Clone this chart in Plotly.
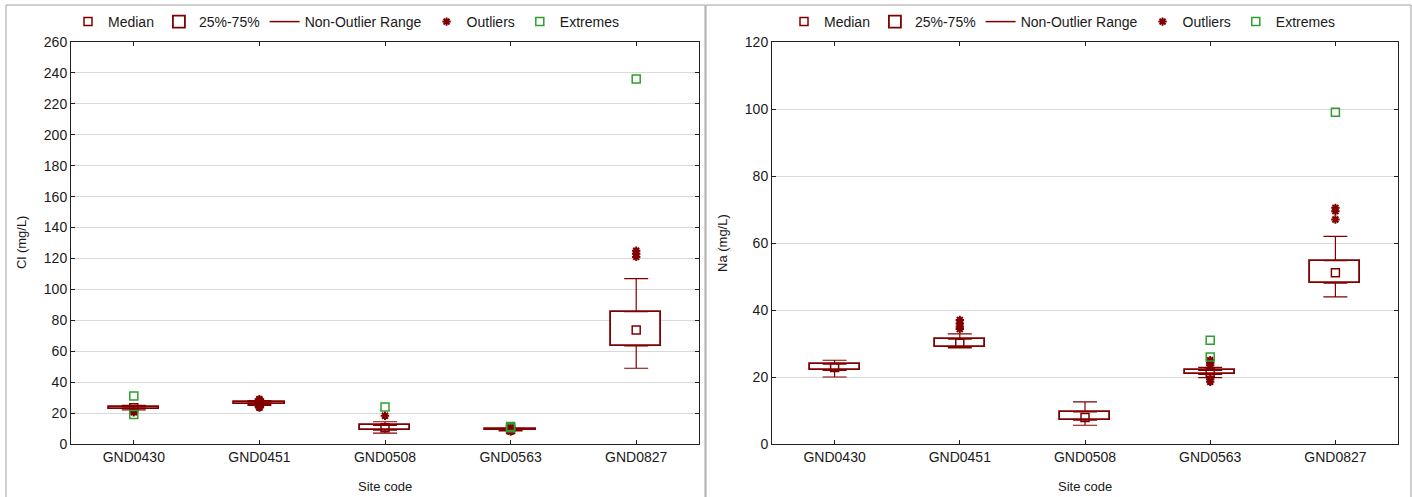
import plotly.graph_objects as go

sites = ["GND0430", "GND0451", "GND0508", "GND0563", "GND0827"]

# Cl (mg/L)
cl_q1 = [22.8, 25.8, 8.9, 8.8, 63.4]
cl_med = [23.5, 26.5, 10.5, 9.3, 73.7]
cl_q3 = [24.0, 27.0, 12.1, 9.8, 85.6]
cl_low = [22.0, 25.0, 7.0, 8.5, 49.0]
cl_high = [25.0, 28.0, 14.4, 10.2, 107.0]
cl_outliers = [[21.0, 20.5], [28.5, 29.0, 24.0, 23.5], [18.3], [8.0, 10.8], [125.0, 123.0, 121.0]]
cl_extremes = [[31.0, 19.0], [], [24.0], [11.3, 10.5], [236.0]]

# Na (mg/L)
na_q1 = [22.0, 28.9, 7.1, 20.8, 48.0]
na_med = [22.8, 30.1, 7.9, 21.4, 51.1]
na_q3 = [23.8, 31.3, 9.6, 22.0, 54.7]
na_low = [20.0, 28.7, 5.6, 19.8, 43.9]
na_high = [25.0, 32.9, 12.6, 22.9, 62.0]
na_outliers = [[], [37.0, 36.0, 35.0, 34.3], [], [25.0, 24.2, 23.5, 19.3, 18.6], [70.5, 69.5, 67.0]]
na_extremes = [[], [], [], [31.0, 26.0], [99.0]]

MAROON = "#800000"
GREEN = "#2e9e2e"
FONT = "Liberation Sans, Arial, sans-serif"

fig = go.Figure()


def add_panel(q1, med, q3, low, high, outl, extr, xa, ya, leg):
    # whiskers (upper and lower)
    fig.add_trace(go.Scatter(
        x=sites, y=q3, mode="markers", marker=dict(color="rgba(0,0,0,0)", size=1),
        error_y=dict(type="data", array=[h - q for h, q in zip(high, q3)],
                     arrayminus=[0] * len(sites), color=MAROON, thickness=1.2, width=12),
        xaxis=xa, yaxis=ya, showlegend=False, hoverinfo="skip"))
    fig.add_trace(go.Scatter(
        x=sites, y=q1, mode="markers", marker=dict(color="rgba(0,0,0,0)", size=1),
        error_y=dict(type="data", array=[0] * len(sites),
                     arrayminus=[q - l for q, l in zip(q1, low)], color=MAROON, thickness=1.2, width=12),
        xaxis=xa, yaxis=ya, showlegend=False, hoverinfo="skip"))
    # boxes
    fig.add_trace(go.Bar(
        x=sites, y=[b - a for a, b in zip(q1, q3)], base=q1, width=0.4,
        marker=dict(color="white", line=dict(color=MAROON, width=1.8)),
        name="25%-75%", legend=leg, legendrank=2, xaxis=xa, yaxis=ya))
    # median
    fig.add_trace(go.Scatter(
        x=sites, y=med, mode="markers",
        marker=dict(symbol="square-open", size=8, color=MAROON, line=dict(width=1.5)),
        name="Median", legend=leg, legendrank=1, xaxis=xa, yaxis=ya))
    # non-outlier range legend entry
    fig.add_trace(go.Scatter(
        x=[None], y=[None], mode="lines", line=dict(color=MAROON, width=1.5),
        name="Non-Outlier Range", legend=leg, legendrank=3, xaxis=xa, yaxis=ya))
    # outliers
    ox, oy = [], []
    for s, vals in zip(sites, outl):
        for v in vals:
            ox.append(s)
            oy.append(v)
    fig.add_trace(go.Scatter(
        x=ox, y=oy, mode="markers",
        marker=dict(symbol="asterisk-open", size=7, color=MAROON, line=dict(width=2, color=MAROON)),
        name="Outliers", legend=leg, legendrank=4, xaxis=xa, yaxis=ya))
    ex, ey = [], []
    for s, vals in zip(sites, extr):
        for v in vals:
            ex.append(s)
            ey.append(v)
    fig.add_trace(go.Scatter(
        x=ex, y=ey, mode="markers",
        marker=dict(symbol="square-open", size=8, color=GREEN, line=dict(width=1.5)),
        name="Extremes", legend=leg, legendrank=5, xaxis=xa, yaxis=ya))


add_panel(cl_q1, cl_med, cl_q3, cl_low, cl_high, cl_outliers, cl_extremes, "x", "y", "legend")
add_panel(na_q1, na_med, na_q3, na_low, na_high, na_outliers, na_extremes, "x2", "y2", "legend2")

W, H = 1412, 497
xd1 = [71 / W, 699 / W]
xd2 = [772 / W, 1398 / W]
yd = [1 - 444 / H, 1 - 42 / H]

axis_common = dict(
    showline=True, linecolor="#202020", linewidth=1, mirror="ticks",
    ticks="inside", ticklen=4, tickcolor="#202020",
    tickfont=dict(family=FONT, size=14, color="#1a1a1a"),
    automargin=False, zeroline=False,
)

title_font = dict(family=FONT, size=13, color="#1a1a1a")

fig.update_layout(
    width=W, height=H,
    margin=dict(l=0, r=0, t=0, b=0),
    paper_bgcolor="white", plot_bgcolor="white",
    font=dict(family=FONT, size=14, color="#1a1a1a"),
    bargap=0,
    xaxis=dict(domain=xd1, anchor="y", type="category", categoryorder="array",
               categoryarray=sites, showgrid=False, **axis_common),
    yaxis=dict(domain=yd, anchor="x", range=[0, 260], dtick=20, tick0=0,
               showgrid=True, gridcolor="#d9d9d9", gridwidth=1, **axis_common),
    xaxis2=dict(domain=xd2, anchor="y2", type="category", categoryorder="array",
                categoryarray=sites, showgrid=False, **axis_common),
    yaxis2=dict(domain=yd, anchor="x2", range=[0, 120], dtick=20, tick0=0,
                showgrid=True, gridcolor="#d9d9d9", gridwidth=1, **axis_common),
    legend=dict(orientation="h", x=346 / W, xanchor="center", y=1 - 22 / H, yanchor="middle",
                font=dict(family=FONT, size=14, color="#1a1a1a"), itemwidth=30,
                bgcolor="rgba(0,0,0,0)", tracegroupgap=0),
    legend2=dict(orientation="h", x=1062 / W, xanchor="center", y=1 - 22 / H, yanchor="middle",
                 font=dict(family=FONT, size=14, color="#1a1a1a"), itemwidth=30,
                 bgcolor="rgba(0,0,0,0)", tracegroupgap=0),
    shapes=[
        dict(type="rect", xref="paper", yref="paper", x0=6 / W, x1=705 / W, y0=-0.02, y1=1 - 5 / H,
             line=dict(color="#a0a0a0", width=1)),
        dict(type="rect", xref="paper", yref="paper", x0=706 / W, x1=1411 / W, y0=-0.02, y1=1 - 5 / H,
             line=dict(color="#a0a0a0", width=1)),
    ],
    annotations=[
        dict(text="Cl (mg/L)", x=21 / W, y=1 - 243 / H, xref="paper", yref="paper",
             xanchor="center", yanchor="middle",
             textangle=-90, showarrow=False, font=title_font),
        dict(text="Na (mg/L)", x=722 / W, y=1 - 243 / H, xref="paper", yref="paper",
             xanchor="center", yanchor="middle",
             textangle=-90, showarrow=False, font=title_font),
        dict(text="Site code", x=385 / W, y=1 - 486 / H, xref="paper", yref="paper",
             xanchor="center", yanchor="middle", showarrow=False, font=title_font),
        dict(text="Site code", x=1085 / W, y=1 - 486 / H, xref="paper", yref="paper",
             xanchor="center", yanchor="middle", showarrow=False, font=title_font),
    ],
)

fig.write_html("out.html")
